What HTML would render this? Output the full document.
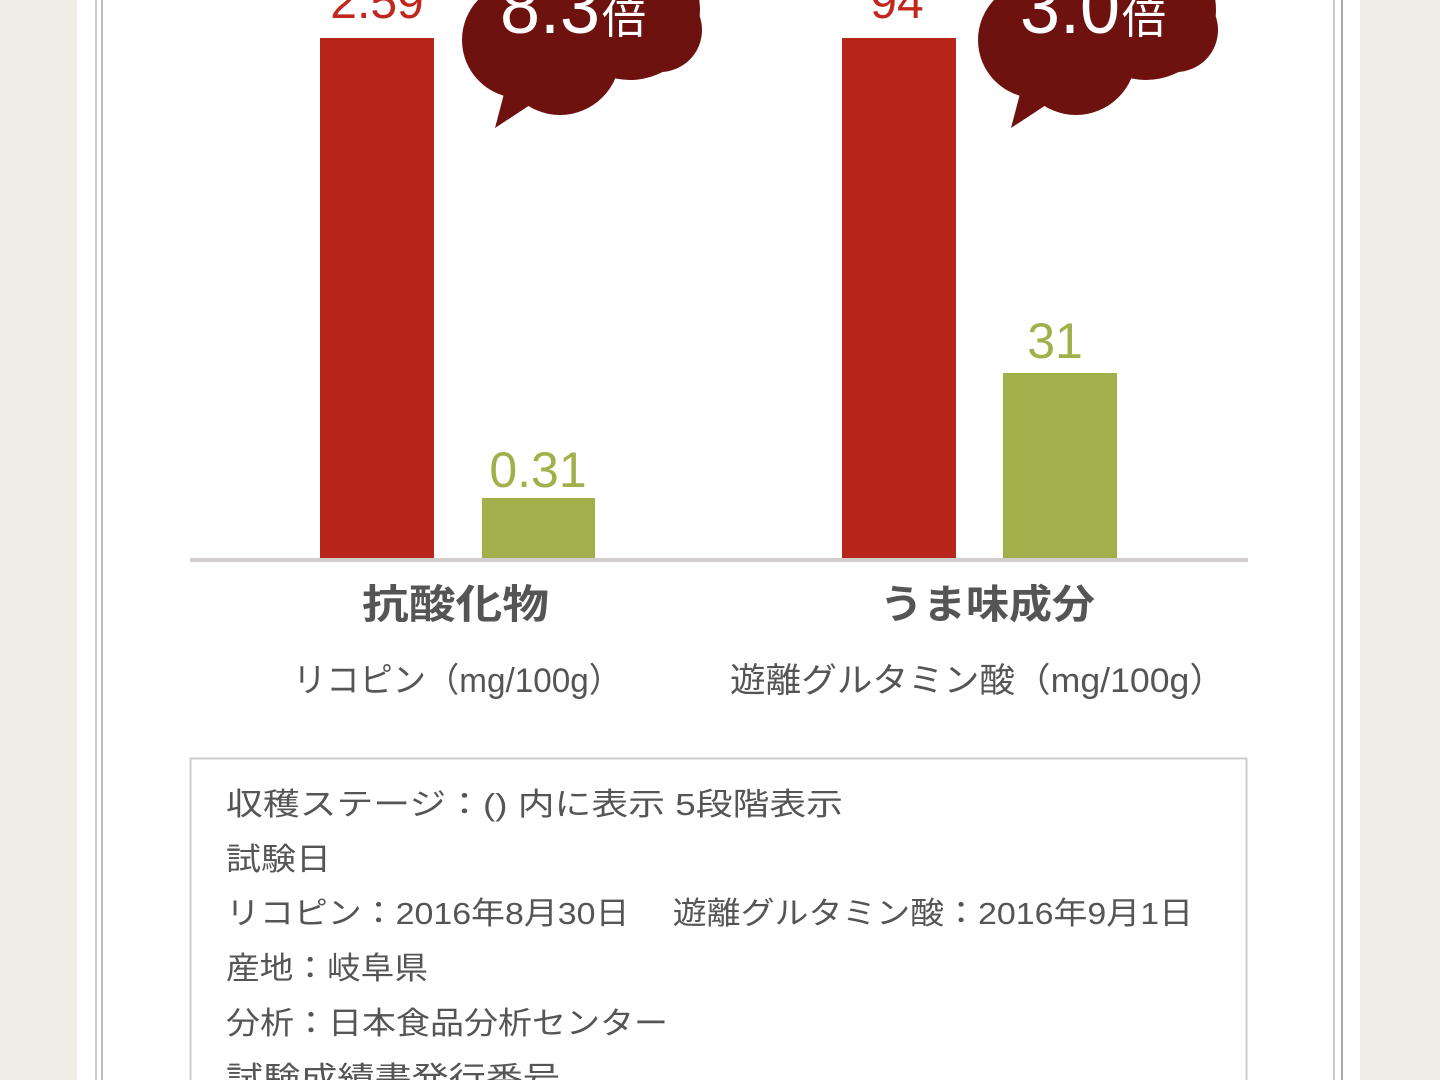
<!DOCTYPE html>
<html><head><meta charset="utf-8"><style>
html,body{margin:0;padding:0;width:1440px;height:1080px;overflow:hidden;background:#fff}
body{position:relative;font-family:"Liberation Sans","Noto Sans CJK JP",sans-serif}
.bgl,.bgr{position:absolute;top:0;height:1080px;background:#efeee6}
.bgl{left:0;width:77px}.bgr{left:1360px;width:80px}
.vl{position:absolute;top:0;height:1080px;width:2px;background:#cfcbc8}
</style></head><body>
<div class="bgl"></div><div class="bgr"></div>
<div class="vl" style="left:95px"></div><div class="vl" style="left:101px;background:#bbb"></div>
<div class="vl" style="left:1333px"></div><div class="vl" style="left:1341px;background:#aaa"></div>
<svg width="1440" height="1080" style="position:absolute;left:0;top:0">
<rect x="320" y="38" width="114" height="520" fill="#b8251b"/>
<rect x="482" y="498" width="113" height="60" fill="#a2b04c"/>
<rect x="842" y="38" width="114" height="520" fill="#b8251b"/>
<rect x="1003" y="373" width="114" height="185" fill="#a2b04c"/>
<rect x="190" y="558" width="1058" height="4" fill="#d0cdcc"/>
<g fill="#6e1210">
<circle cx="520" cy="40" r="58"/><circle cx="560" cy="55" r="60"/><circle cx="630" cy="10" r="70"/><circle cx="660" cy="30" r="42"/>
<path d="M505 90 L495 128 L530 105 Z"/>
</g>
<g fill="#6e1210" transform="translate(516,0)">
<circle cx="520" cy="40" r="58"/><circle cx="560" cy="55" r="60"/><circle cx="630" cy="10" r="70"/><circle cx="660" cy="30" r="42"/>
<path d="M505 90 L495 128 L530 105 Z"/>
</g>
<g font-family="Liberation Sans,Noto Sans CJK JP,sans-serif">
<text x="377" y="18" font-size="48" fill="#c0281e" text-anchor="middle">2.59</text>
<text x="897" y="18" font-size="48" fill="#c0281e" text-anchor="middle">94</text>
<text x="538" y="487" font-size="50" fill="#a2b04c" text-anchor="middle">0.31</text>
<text x="1055" y="358" font-size="50" fill="#a2b04c" text-anchor="middle">31</text>
<text x="500" y="33" font-size="76" fill="#fff" textLength="100" lengthAdjust="spacingAndGlyphs">8.3</text>
<text x="602" y="33" font-size="44" fill="#fff">倍</text>
<text x="1020" y="33" font-size="76" fill="#fff" textLength="100" lengthAdjust="spacingAndGlyphs">3.0</text>
<text x="1122" y="33" font-size="44" fill="#fff">倍</text>
<text x="362" y="618" font-size="40" font-weight="bold" fill="#555" textLength="187" lengthAdjust="spacingAndGlyphs">抗酸化物</text>
<text x="880" y="618" font-size="40" font-weight="bold" fill="#555" textLength="215" lengthAdjust="spacingAndGlyphs">うま味成分</text>
<text x="293" y="692" font-size="34" fill="#555" textLength="329" lengthAdjust="spacingAndGlyphs">リコピン（mg/100g）</text>
<text x="730" y="692" font-size="34" fill="#555" textLength="495" lengthAdjust="spacingAndGlyphs">遊離グルタミン酸（mg/100g）</text>
</g>
<rect x="190.5" y="758.5" width="1056" height="340" fill="none" stroke="#ccc" stroke-width="2"/>
<g font-size="31" fill="#555" font-family="Liberation Sans,Noto Sans CJK JP,sans-serif">
<text x="226" y="815" textLength="617" lengthAdjust="spacingAndGlyphs">収穫ステージ：() 内に表示 5段階表示</text>
<text x="226" y="870" textLength="105" lengthAdjust="spacingAndGlyphs">試験日</text>
<text x="226" y="924" textLength="967" lengthAdjust="spacingAndGlyphs">リコピン：2016年8月30日　 遊離グルタミン酸：2016年9月1日</text>
<text x="226" y="979" textLength="202" lengthAdjust="spacingAndGlyphs">産地：岐阜県</text>
<text x="226" y="1034" textLength="442" lengthAdjust="spacingAndGlyphs">分析：日本食品分析センター</text>
<text x="226" y="1089" textLength="334" lengthAdjust="spacingAndGlyphs">試験成績書発行番号</text>
</g>
</svg>
</body></html>
